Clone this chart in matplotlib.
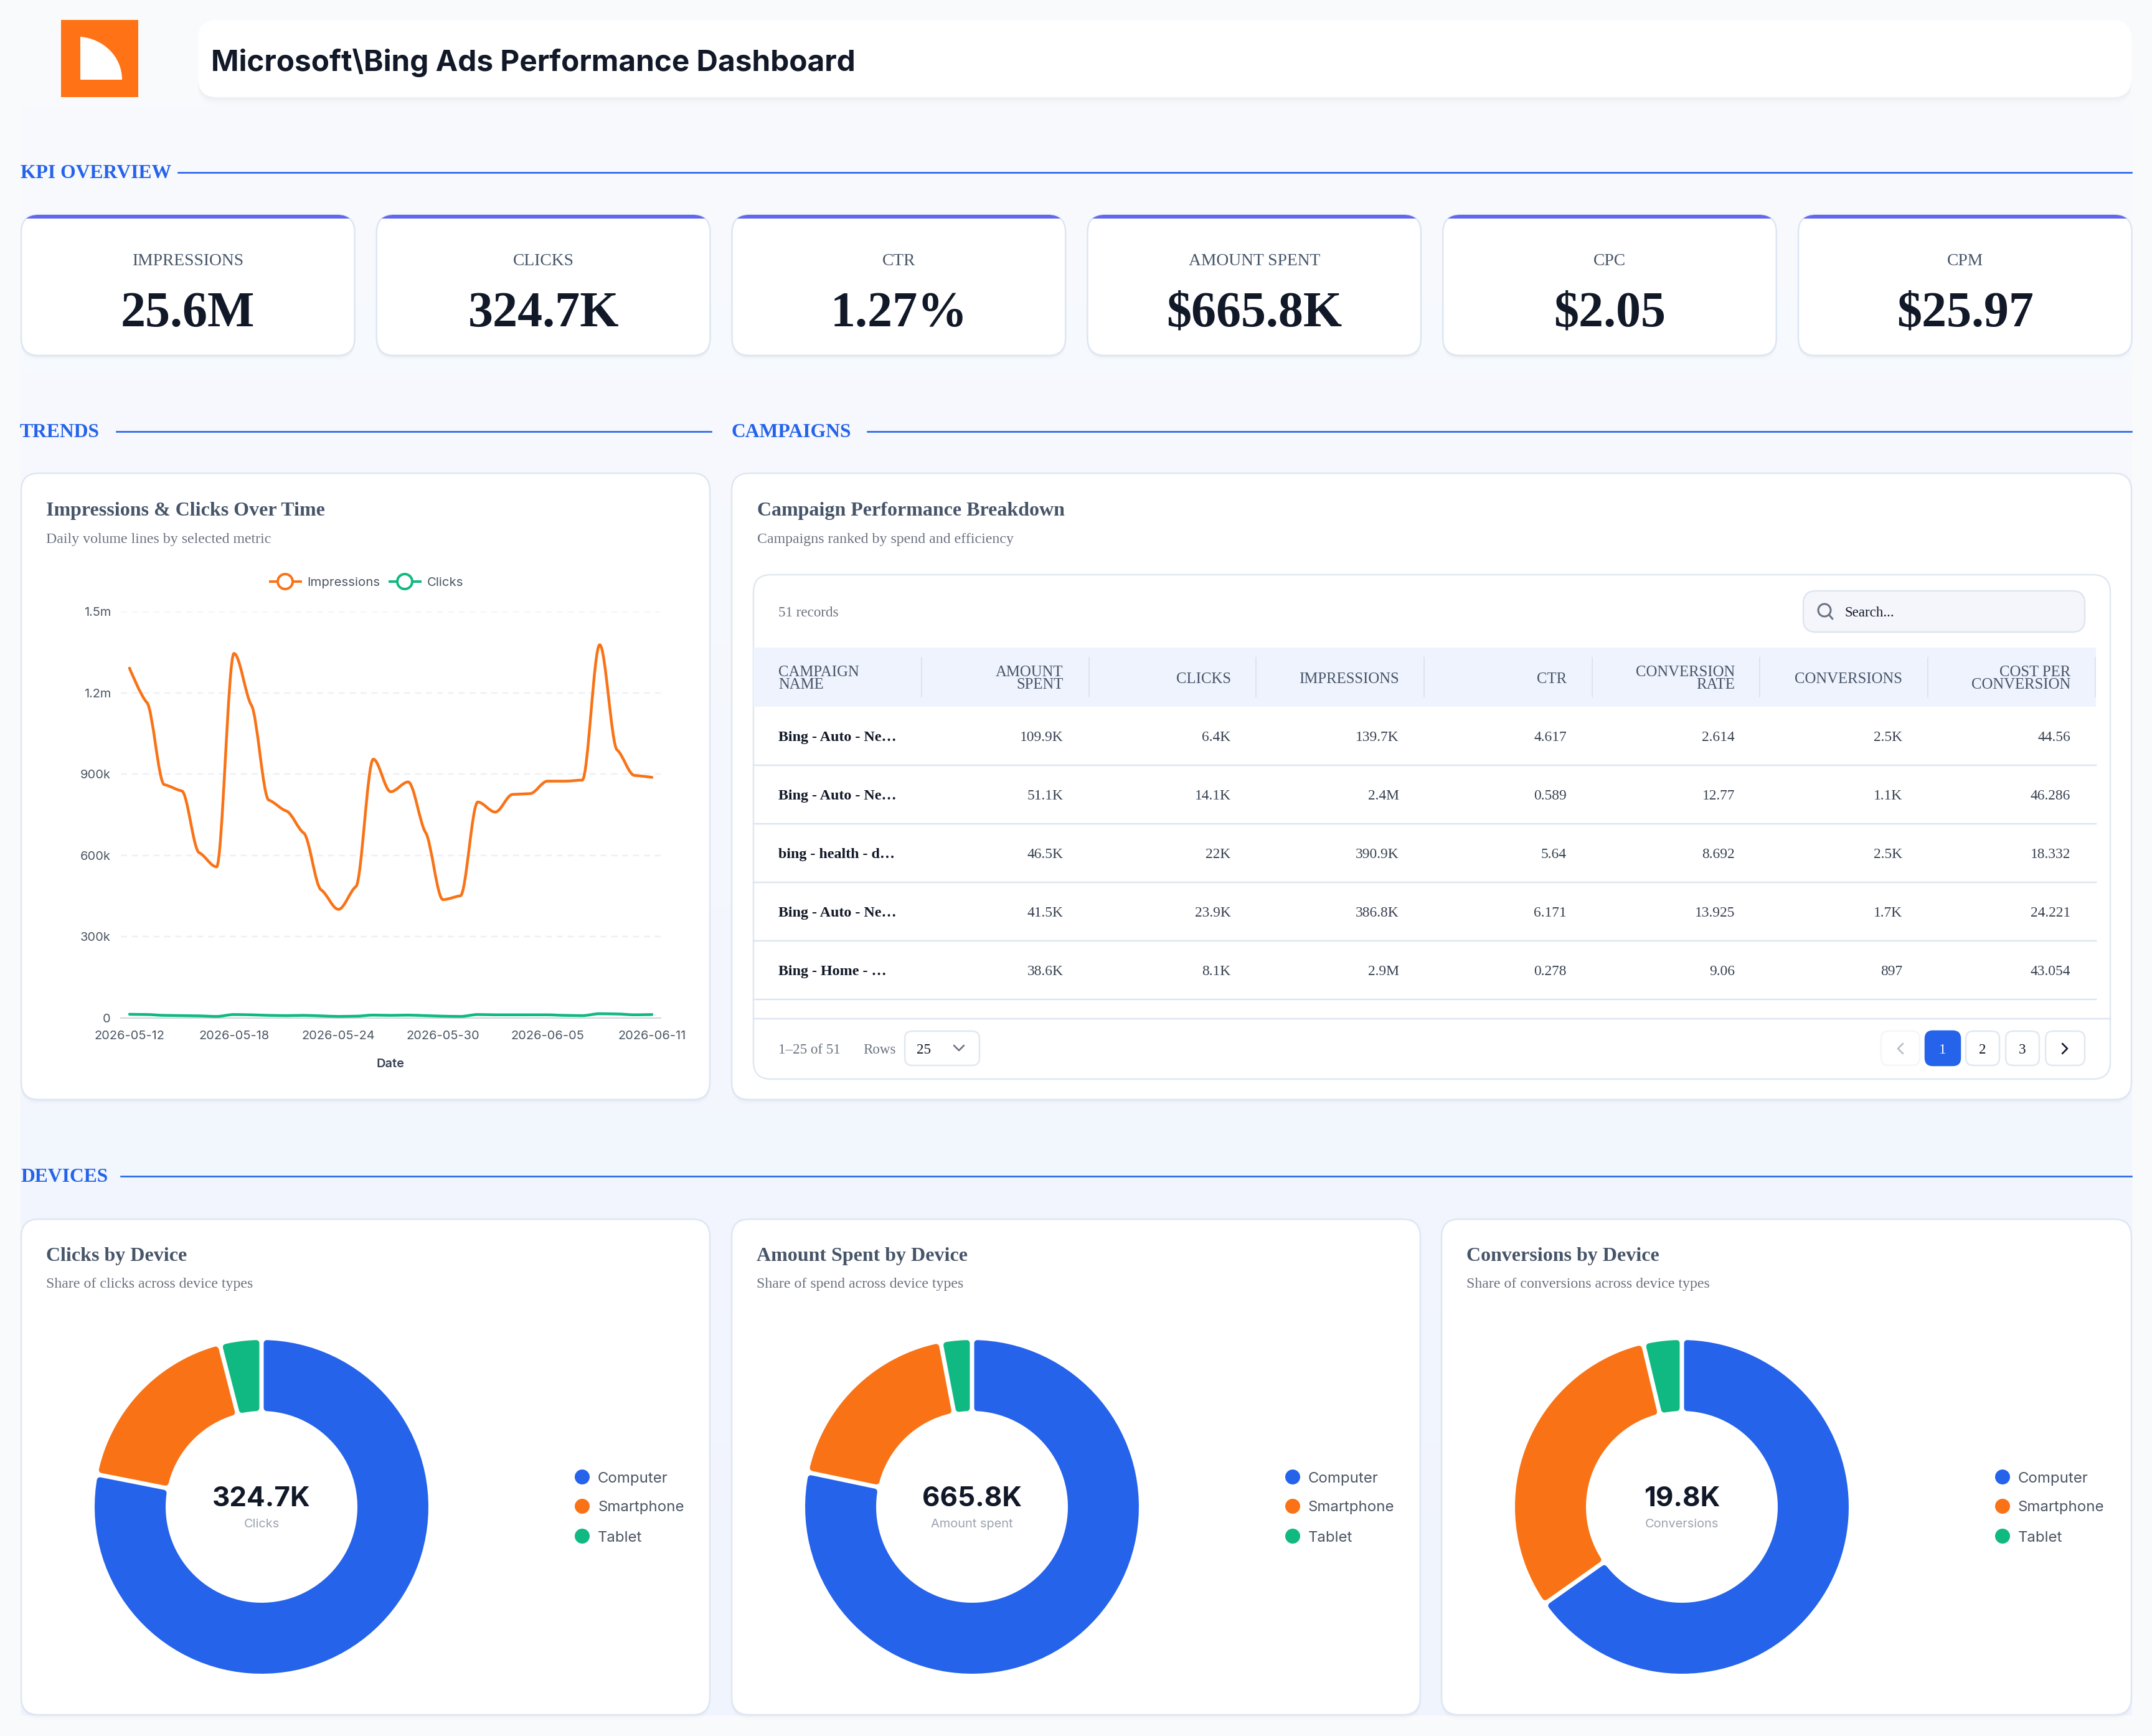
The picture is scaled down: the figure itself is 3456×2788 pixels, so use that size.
import numpy as np
import matplotlib
matplotlib.use('Agg')
import matplotlib.pyplot as plt
from matplotlib.patches import FancyBboxPatch, Rectangle, PathPatch, Circle
from matplotlib.path import Path
from matplotlib.colors import LinearSegmentedColormap

W, H = 3456, 2788
SERIF = 'Liberation Serif'
SANS = 'Inter'

BLUE = '#2563eb'
ORANGE = '#f97316'
GREEN = '#10b981'
INK = '#111827'
SLATE = '#475569'
MUTED = '#6b7280'
BORDER = '#dde6f3'

kpi_labels = ['IMPRESSIONS', 'CLICKS', 'CTR', 'AMOUNT SPENT', 'CPC', 'CPM']
kpi_values = ['25.6M', '324.7K', '1.27%', '$665.8K', '$2.05', '$25.97']

dates = ['2026-05-12', '2026-05-18', '2026-05-24', '2026-05-30', '2026-06-05', '2026-06-11']
impressions = [1291, 1164, 861, 838, 610, 558, 1345, 1154, 804, 764, 683, 473, 401, 485, 955, 835,
               871, 685, 437, 451, 797, 760, 825, 828, 874, 874, 878, 1377, 989, 895, 888]
clicks = [14, 13, 10, 9, 8, 6, 13, 12, 10, 9, 10, 8, 6, 7, 11, 10,
          11, 9, 7, 6, 13, 12, 12, 12, 12, 10, 9, 16, 15, 12, 13]
y_ticks = [0, 300000, 600000, 900000, 1200000, 1500000]
y_tick_labels = ['0', '300k', '600k', '900k', '1.2m', '1.5m']

table_headers = [['CAMPAIGN', 'NAME'], ['AMOUNT', 'SPENT'], ['CLICKS'], ['IMPRESSIONS'], ['CTR'],
                 ['CONVERSION', 'RATE'], ['CONVERSIONS'], ['COST PER', 'CONVERSION']]
campaign_names = ['Bing - Auto - Ne…', 'Bing - Auto - Ne…', 'bing - health - d…', 'Bing - Auto - Ne…', 'Bing - Home - …']
amount_spent = ['109.9K', '51.1K', '46.5K', '41.5K', '38.6K']
campaign_clicks = ['6.4K', '14.1K', '22K', '23.9K', '8.1K']
campaign_impressions = ['139.7K', '2.4M', '390.9K', '386.8K', '2.9M']
campaign_ctr = ['4.617', '0.589', '5.64', '6.171', '0.278']
conversion_rate = ['2.614', '12.77', '8.692', '13.925', '9.06']
conversions = ['2.5K', '1.1K', '2.5K', '1.7K', '897']
cost_per_conversion = ['44.56', '46.286', '18.332', '24.221', '43.054']

devices = ['Computer', 'Smartphone', 'Tablet']
device_colors = [BLUE, ORANGE, GREEN]
clicks_share = [78.1, 17.9, 4.0]
spend_share = [78.3, 18.7, 3.0]
conversions_share = [65.2, 31.1, 3.7]


def px(n):
    # sizes below are worked out in output pixels, dpi is 100
    return n * 0.72


fig = plt.figure(figsize=(W / 100, H / 100), dpi=100)
bg = fig.add_axes([0, 0, 1, 1])
bg.set_xlim(0, W)
bg.set_ylim(H, 0)
bg.axis('off')


def card(x0, y0, x1, y1, r=28, fill='white', edge=BORDER, lw=2.5, shadow=True, z=2):
    if shadow:
        for off, alpha in [(8, 0.012), (5, 0.02), (3, 0.03)]:
            bg.add_patch(FancyBboxPatch((x0, y0 + off), x1 - x0, y1 - y0, boxstyle=f'round,pad=0,rounding_size={r}',
                                        fc='#64748b', ec='none', alpha=alpha, zorder=z - 0.5))
    box = FancyBboxPatch((x0, y0), x1 - x0, y1 - y0, boxstyle=f'round,pad=0,rounding_size={r}',
                         fc=fill, ec=edge, lw=px(lw), zorder=z)
    bg.add_patch(box)
    return box


def label(x, y, s, size, color=INK, family=SERIF, weight='normal', ha='left', z=6):
    return bg.text(x, y, s, fontsize=px(size), color=color, family=family, weight=weight,
                   ha=ha, va='center_baseline', zorder=z)


def section(x, y, s, line_from, line_to):
    label(x, y, s, 31.6, BLUE, weight='bold')
    bg.plot([line_from, line_to], [y + 2, y + 2], color=BLUE, lw=px(2.6), zorder=3)


def chevron(cx, cy, size, direction, color, lw=2.6):
    if direction == 'down':
        xs, ys = [cx - size, cx, cx + size], [cy - size / 2, cy + size / 2, cy - size / 2]
    elif direction == 'left':
        xs, ys = [cx + size / 2, cx - size / 2, cx + size / 2], [cy - size, cy, cy + size]
    else:
        xs, ys = [cx - size / 2, cx + size / 2, cx - size / 2], [cy - size, cy, cy + size]
    bg.plot(xs, ys, color=color, lw=px(lw), solid_capstyle='round', solid_joinstyle='round', zorder=6)


# page background, the content column carries a faint blue wash that deepens downwards
wash = LinearSegmentedColormap.from_list('wash', ['#f8fafd', '#f0f4fe'])
bg.add_patch(Rectangle((0, 0), W, H, fc='#f8fafc', ec='none', zorder=0))
bg.imshow(np.linspace(0, 1, 256).reshape(-1, 1), cmap=wash, aspect='auto',
          extent=(33, 3424, 2755, 160), zorder=0.5)
bg.set_xlim(0, W)
bg.set_ylim(H, 0)

# header
bg.add_patch(Rectangle((98, 32), 124, 124, fc='#ff7316', ec='none', zorder=2))
logo = Path([(129, 59), (165, 62), (196, 90), (196, 128), (129, 128), (129, 59)],
            [Path.MOVETO, Path.CURVE4, Path.CURVE4, Path.CURVE4, Path.LINETO, Path.CLOSEPOLY])
bg.add_patch(PathPatch(logo, fc='white', ec='none', zorder=3))
for off, alpha in [(14, 0.012), (9, 0.02), (5, 0.03)]:
    bg.add_patch(FancyBboxPatch((318, 32 + off), 3105, 124, boxstyle='round,pad=0,rounding_size=30',
                                fc='#64748b', ec='none', alpha=alpha, zorder=1.5))
card(318, 32, 3423, 156, r=30, edge='none', lw=0, shadow=False)
label(339, 96, 'Microsoft\\Bing Ads Performance Dashboard', 47.7, INK, SANS, 'bold')

# KPI row
section(33, 275, 'KPI OVERVIEW', 286, 3423)
kpi_w = 535.6
for i in range(6):
    x0 = 34 + i * 570.8
    box = card(x0, 345, x0 + kpi_w, 571)
    bar = Rectangle((x0, 345), kpi_w, 6, fc='#6366f1', ec='none', zorder=3)
    bg.add_patch(bar)
    bar.set_clip_path(box)
    label(x0 + kpi_w / 2, 416, kpi_labels[i], 27.5, SLATE, ha='center')
    label(x0 + kpi_w / 2, 496, kpi_values[i], 80, INK, weight='bold', ha='center')

# section headings for the middle row
section(32, 691, 'TRENDS', 187, 1142)
section(1174, 691, 'CAMPAIGNS', 1393, 3423)

# trend card
card(34, 760, 1140, 1766)
label(74, 817, 'Impressions & Clicks Over Time', 32, SLATE, weight='bold')
label(74, 864, 'Daily volume lines by selected metric', 23.9, MUTED)

# legend of the line chart
for xa, xb, cx, color, tx, name in [(434, 483, 458, ORANGE, 493, 'Impressions'), (626, 675, 650, GREEN, 686, 'Clicks')]:
    bg.plot([xa, xb], [934, 934], color=color, lw=px(4), zorder=5)
    bg.add_patch(Circle((cx, 934), 12, fc='white', ec=color, lw=px(4), zorder=6))
    label(tx, 934, name, 20.4, '#4b5563', SANS)


def smooth_path(xs, ys):
    # cubic segments through the points: tangents stay small next to the flatter side,
    # so the line sits on a short shoulder at each day, and are flat at peaks and dips
    xs = np.asarray(xs, dtype=float)
    ys = np.asarray(ys, dtype=float)
    slopes = np.diff(ys) / np.diff(xs)
    tangents = np.zeros(len(xs))
    for i in range(1, len(xs) - 1):
        if slopes[i - 1] * slopes[i] > 0:
            tangents[i] = np.sign(slopes[i]) * 0.5 * min(abs(slopes[i - 1]), abs(slopes[i]))
    verts = [(xs[0], ys[0])]
    codes = [Path.MOVETO]
    for i in range(len(xs) - 1):
        h = xs[i + 1] - xs[i]
        start_cp = (xs[i], ys[i]) if i == 0 else (xs[i] + h / 3, ys[i] + tangents[i] * h / 3)
        end_cp = (xs[i + 1], ys[i + 1]) if i == len(xs) - 2 else (xs[i + 1] - h / 3, ys[i + 1] - tangents[i + 1] * h / 3)
        verts += [start_cp, end_cp, (xs[i + 1], ys[i + 1])]
        codes += [Path.CURVE4, Path.CURVE4, Path.CURVE4]
    return Path(verts, codes)


# line chart
ax_x0, ax_x1, ax_top, ax_bottom = 194, 1061, 982, 1635
ax = fig.add_axes([ax_x0 / W, 1 - ax_bottom / H, (ax_x1 - ax_x0) / W, (ax_bottom - ax_top) / H], zorder=2)
ax.patch.set_alpha(0)
days = np.arange(len(impressions))
ax.set_xlim(-0.5, len(days) - 0.5)
ax.set_ylim(0, 1500000)
for series, color in [(impressions, ORANGE), (clicks, GREEN)]:
    curve = smooth_path(days, np.array(series) * 1000)
    ax.add_patch(PathPatch(curve, fc='none', ec=color, lw=px(4.5), capstyle='round', zorder=3))
ax.set_yticks(y_ticks)
ax.set_yticklabels(y_tick_labels)
ax.set_xticks(days[::6])
ax.set_xticklabels(dates)
ax.tick_params(length=0, labelsize=px(20), labelcolor='#4b5563')
for t in ax.get_xticklabels() + ax.get_yticklabels():
    t.set_family(SANS)
ax.tick_params(axis='y', pad=px(16))
ax.tick_params(axis='x', pad=px(20))
ax.set_xlabel('Date', fontsize=px(20), family=SANS, weight='semibold', color='#374151', labelpad=px(27))
ax.grid(axis='y', color='#eef0f6', lw=px(2.5), dashes=(4, 3))
ax.set_axisbelow(True)
for side in ['top', 'right', 'left']:
    ax.spines[side].set_visible(False)
ax.spines['bottom'].set_color('#d1d5db')
ax.spines['bottom'].set_linewidth(px(2))

# campaign table
card(1175, 760, 3423, 1766)
label(1216, 817, 'Campaign Performance Breakdown', 32, SLATE, weight='bold')
label(1216, 864, 'Campaigns ranked by spend and efficiency', 23.9, MUTED)
card(1210, 923, 3389, 1733, edge='#e2e8f0', shadow=False, lw=2.5, z=3)
label(1250, 982, '51 records', 23, MUTED)

card(2896, 949, 3348, 1015, r=20, fill='#f4f6fb', edge='#dfe5f0', shadow=False, z=4)
bg.add_patch(Circle((2930, 980), 10, fc='none', ec=MUTED, lw=px(3), zorder=6))
bg.plot([2937, 2943], [987, 994], color=MUTED, lw=px(3), solid_capstyle='round', zorder=6)
label(2962, 982, 'Search...', 23, INK)

bg.add_patch(Rectangle((1210, 1040), 2156, 95, fc='#eff3fd', ec='none', zorder=4))
col_right = [None, 1707.6, 1976.7, 2246.6, 2516, 2786, 3055, 3325]
col_seps = [1479.5, 1748.7, 2017, 2287, 2556.6, 2826, 3095.5, 3364.6]
for sx in col_seps:
    bg.plot([sx, sx], [1056, 1119], color='#dde3ee', lw=px(2), zorder=5)
for c, lines in enumerate(table_headers):
    xc, ha = (1250, 'left') if c == 0 else (col_right[c], 'right')
    ys = [1077, 1098] if len(lines) == 2 else [1088.5]
    for yc, s in zip(ys, lines):
        label(xc, yc, s, 24.8, SLATE, ha=ha)

columns = [amount_spent, campaign_clicks, campaign_impressions, campaign_ctr,
           conversion_rate, conversions, cost_per_conversion]
row_ys = [1182, 1276, 1370, 1464, 1558]
row_lines = [1228.5, 1323, 1417, 1511, 1604.5]
for r, yc in enumerate(row_ys):
    label(1250, yc, campaign_names[r], 24, INK, weight='bold')
    for c, col in enumerate(columns):
        label(col_right[c + 1], yc, col[r], 23.5, '#374151', ha='right')
    bg.plot([1210, 3366], [row_lines[r]] * 2, color='#dde5f0', lw=px(2.5), zorder=5)
bg.plot([1210, 3389], [1636, 1636], color='#dde5f0', lw=px(2.5), zorder=5)

# pagination footer
label(1250, 1684, '1–25 of 51', 23, MUTED)
label(1386, 1684, 'Rows', 23, MUTED)
card(1453, 1656, 1573, 1711, r=12, edge='#e2e8f0', shadow=False, z=4)
label(1472, 1684, '25', 23, INK)
chevron(1540, 1683, 8, 'down', MUTED)
card(3021, 1656, 3083, 1711, r=12, edge='#f4f6fa', shadow=False, z=4)
chevron(3052, 1684, 8, 'left', '#b6bcc7')
card(3092, 1656, 3148, 1711, r=12, fill=BLUE, edge=BLUE, shadow=False, z=4)
label(3120, 1684, '1', 23, 'white', ha='center')
for x0, x1, s in [(3157, 3211, '2'), (3221, 3275, '3')]:
    card(x0, 1656, x1, 1711, r=12, edge='#e2e8f0', shadow=False, z=4)
    label((x0 + x1) / 2, 1684, s, 23, INK, ha='center')
card(3285, 1656, 3348, 1711, r=12, edge='#e2e8f0', shadow=False, z=4)
chevron(3316, 1684, 8, 'right', INK)

# device row
section(33, 1887, 'DEVICES', 194, 3423)


def ring_slice(t1, t2, r0, r1, gap):
    # annular sector whose straight edges sit a constant distance from the slice boundary
    a1 = np.linspace(t1 + np.degrees(np.arcsin(gap / r1)), t2 - np.degrees(np.arcsin(gap / r1)), 90)
    a0 = np.linspace(t2 - np.degrees(np.arcsin(gap / r0)), t1 + np.degrees(np.arcsin(gap / r0)), 90)
    xs = np.concatenate([r1 * np.cos(np.radians(a1)), r0 * np.cos(np.radians(a0))])
    ys = np.concatenate([r1 * np.sin(np.radians(a1)), r0 * np.sin(np.radians(a0))])
    return np.column_stack([xs, ys])


def donut_card(offset, x1, title, sub, shares, total, caption):
    x0 = 34 + offset
    card(x0, 1958, x1, 2754)
    label(x0 + 40, 2014, title, 32, SLATE, weight='bold')
    label(x0 + 40, 2060, sub, 23.9, MUTED)

    cx, cy, R = 420 + offset, 2420, 268
    dax = fig.add_axes([(cx - R) / W, 1 - (cy + R) / H, 2 * R / W, 2 * R / H], zorder=2)
    wedges, _ = dax.pie(shares, colors=device_colors, startangle=90, counterclock=False, radius=1,
                        wedgeprops=dict(width=114 / 268))
    dax.set_xlim(-1, 1)
    dax.set_ylim(-1, 1)
    stroke = 10 / R
    for w, color in zip(wedges, device_colors):
        t1, t2 = w.theta1, w.theta2
        w.remove()
        ring = ring_slice(t1, t2, 154 / R + stroke / 2, 1 - stroke / 2, 3.5 / R + stroke / 2)
        dax.fill(ring[:, 0], ring[:, 1], fc=color, ec=color, lw=px(10), joinstyle='round', clip_on=False)

    label(cx, 2403, total, 44, INK, SANS, 'bold', ha='center')
    label(cx, 2446, caption, 20, '#9ca3af', SANS, ha='center')
    for name, color, yc in zip(devices, device_colors, [2372, 2419, 2467]):
        bg.add_patch(Circle((935 + offset, yc), 12, fc=color, ec='none', zorder=6))
        label(960 + offset, yc, name, 24, '#4b5563', SANS)


donut_card(0, 1140, 'Clicks by Device', 'Share of clicks across device types', clicks_share, '324.7K', 'Clicks')
donut_card(1141, 2281, 'Amount Spent by Device', 'Share of spend across device types', spend_share, '665.8K', 'Amount spent')
donut_card(2281, 3423, 'Conversions by Device', 'Share of conversions across device types', conversions_share, '19.8K', 'Conversions')

fig.savefig('out.png', dpi=100)
